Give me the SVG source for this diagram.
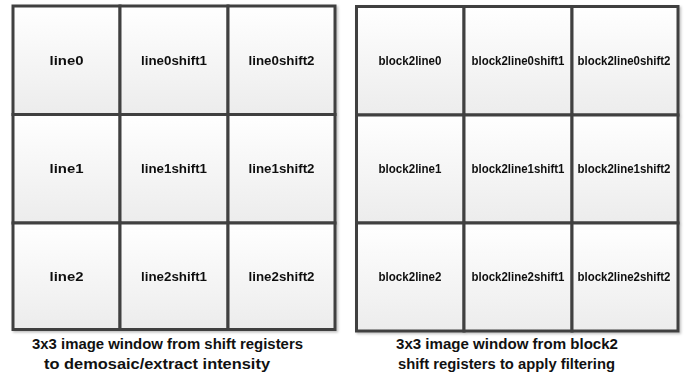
<svg xmlns="http://www.w3.org/2000/svg" width="696" height="374" viewBox="0 0 696 374">
<defs>
<linearGradient id="cellGrad" x1="0" y1="0" x2="0" y2="1">
<stop offset="0" stop-color="#ffffff"/>
<stop offset="1" stop-color="#ececec"/>
</linearGradient>
<filter id="shadow" x="-5%" y="-5%" width="110%" height="110%">
<feDropShadow dx="1.5" dy="1.5" stdDeviation="1" flood-color="#000" flood-opacity="0.25"/>
</filter>
</defs>
<style>
.cell{fill:url(#cellGrad);stroke:#404040;stroke-width:3}
.lbl{font-family:"Liberation Sans",Arial,sans-serif;font-weight:bold;font-size:13px;fill:#111;text-anchor:middle}
.lbl2{font-family:"Liberation Sans",Arial,sans-serif;font-weight:bold;font-size:12px;fill:#111;text-anchor:middle}
.cap{font-family:"Liberation Sans",Arial,sans-serif;font-weight:bold;font-size:15.5px;fill:#111;text-anchor:middle}
</style>
<rect width="696" height="374" fill="#ffffff"/>
<g id="left-window" filter="url(#shadow)">
<g id="line0"><rect class="cell" x="13" y="6" width="107" height="108.5"/><text class="lbl" x="66.5" y="65" textLength="34" lengthAdjust="spacingAndGlyphs">line0</text></g>
<g id="line0shift1"><rect class="cell" x="120" y="6" width="108" height="108.5"/><text class="lbl" x="174" y="65" textLength="66" lengthAdjust="spacingAndGlyphs">line0shift1</text></g>
<g id="line0shift2"><rect class="cell" x="228" y="6" width="107" height="108.5"/><text class="lbl" x="281.5" y="65" textLength="66" lengthAdjust="spacingAndGlyphs">line0shift2</text></g>
<g id="line1"><rect class="cell" x="13" y="114.5" width="107" height="108.5"/><text class="lbl" x="66.5" y="173" textLength="34" lengthAdjust="spacingAndGlyphs">line1</text></g>
<g id="line1shift1"><rect class="cell" x="120" y="114.5" width="108" height="108.5"/><text class="lbl" x="174" y="173" textLength="66" lengthAdjust="spacingAndGlyphs">line1shift1</text></g>
<g id="line1shift2"><rect class="cell" x="228" y="114.5" width="107" height="108.5"/><text class="lbl" x="281.5" y="173" textLength="66" lengthAdjust="spacingAndGlyphs">line1shift2</text></g>
<g id="line2"><rect class="cell" x="13" y="223" width="107" height="106.5"/><text class="lbl" x="66.5" y="281" textLength="34" lengthAdjust="spacingAndGlyphs">line2</text></g>
<g id="line2shift1"><rect class="cell" x="120" y="223" width="108" height="106.5"/><text class="lbl" x="174" y="281" textLength="66" lengthAdjust="spacingAndGlyphs">line2shift1</text></g>
<g id="line2shift2"><rect class="cell" x="228" y="223" width="107" height="106.5"/><text class="lbl" x="281.5" y="281" textLength="66" lengthAdjust="spacingAndGlyphs">line2shift2</text></g>
</g>
<g id="right-window" filter="url(#shadow)">
<g id="block2line0"><rect class="cell" x="356.5" y="6.5" width="107.5" height="108.5"/><text class="lbl2" x="410" y="65" textLength="63" lengthAdjust="spacingAndGlyphs">block2line0</text></g>
<g id="block2line0shift1"><rect class="cell" x="464" y="6.5" width="108" height="108.5"/><text class="lbl2" x="518" y="65" textLength="93" lengthAdjust="spacingAndGlyphs">block2line0shift1</text></g>
<g id="block2line0shift2"><rect class="cell" x="572" y="6.5" width="106" height="108.5"/><text class="lbl2" x="624" y="65" textLength="93" lengthAdjust="spacingAndGlyphs">block2line0shift2</text></g>
<g id="block2line1"><rect class="cell" x="356.5" y="115" width="107.5" height="108"/><text class="lbl2" x="410" y="173" textLength="63" lengthAdjust="spacingAndGlyphs">block2line1</text></g>
<g id="block2line1shift1"><rect class="cell" x="464" y="115" width="108" height="108"/><text class="lbl2" x="518" y="173" textLength="93" lengthAdjust="spacingAndGlyphs">block2line1shift1</text></g>
<g id="block2line1shift2"><rect class="cell" x="572" y="115" width="106" height="108"/><text class="lbl2" x="624" y="173" textLength="93" lengthAdjust="spacingAndGlyphs">block2line1shift2</text></g>
<g id="block2line2"><rect class="cell" x="356.5" y="223" width="107.5" height="108"/><text class="lbl2" x="410" y="281" textLength="63" lengthAdjust="spacingAndGlyphs">block2line2</text></g>
<g id="block2line2shift1"><rect class="cell" x="464" y="223" width="108" height="108"/><text class="lbl2" x="518" y="281" textLength="93" lengthAdjust="spacingAndGlyphs">block2line2shift1</text></g>
<g id="block2line2shift2"><rect class="cell" x="572" y="223" width="106" height="108"/><text class="lbl2" x="624" y="281" textLength="93" lengthAdjust="spacingAndGlyphs">block2line2shift2</text></g>
</g>
<g id="captions">
<text class="cap" x="167.5" y="349" textLength="271" lengthAdjust="spacingAndGlyphs">3x3 image window from shift registers</text>
<text class="cap" x="157" y="369" textLength="226" lengthAdjust="spacingAndGlyphs">to demosaic/extract intensity</text>
<text class="cap" x="507" y="349" textLength="222" lengthAdjust="spacingAndGlyphs">3x3 image window from block2</text>
<text class="cap" x="506.5" y="369" textLength="217" lengthAdjust="spacingAndGlyphs">shift registers to apply filtering</text>
</g>
</svg>
